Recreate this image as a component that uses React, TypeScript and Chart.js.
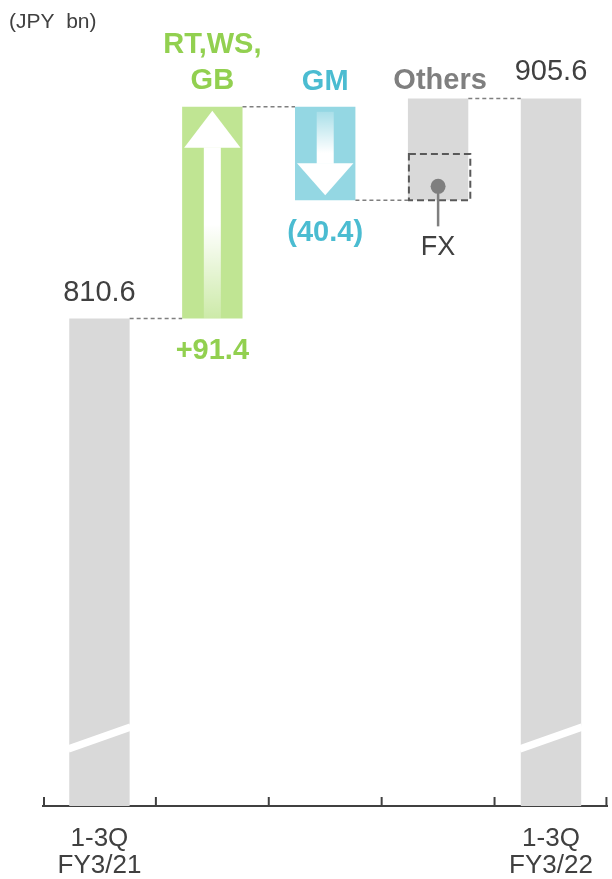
import React, { useEffect, useRef } from "react";
import { Chart, registerables } from "chart.js";

Chart.register(...registerables);

// ---------------- data ----------------
const categories: (string | string[])[] = [["1-3Q", "FY3/21"], "", "", "", ["1-3Q", "FY3/22"]];
const startTotal = 810.6;
const endTotal = 905.6;
const stepNames: string[][] = [["RT,WS,", "GB"], ["GM"], ["Others"]];
const stepValues = [91.4, -40.4, 44.0];
const stepLabels = ["+91.4", "(40.4)", ""];
const totalLabels = ["810.6", "905.6"];
const fxValue = 20.0; // estimated FX part inside "Others"
const axisMin = 600;
const axisMax = 930;
const breakValues = [624.6, 634.1]; // axis-break cut (left edge, right edge)
const unitLabel = "(JPY  bn)";

// ---------------- styles ----------------
const GRAY = "#d9d9d9";
const GREEN_BAR = "#c0e593";
const BLUE_BAR = "#94d7e3";
const GREEN_TXT = "#92d050";
const BLUE_TXT = "#4bbcd1";
const DARK = "#404040";
const MID = "#7f7f7f";
const FONT = "'Liberation Sans', Arial, sans-serif";

function buildBars(): [number, number][] {
  const bars: [number, number][] = [[axisMin, startTotal]];
  let run = startTotal;
  for (const v of stepValues) {
    const next = run + v;
    bars.push([Math.min(run, next), Math.max(run, next)]);
    run = next;
  }
  bars.push([axisMin, endTotal]);
  return bars;
}

const overlayPlugin = {
  id: "overlay",
  afterDatasetsDraw(chart: any) {
    const ctx: CanvasRenderingContext2D = chart.ctx;
    const area = chart.chartArea;
    const ys = chart.scales.y;
    const els = chart.getDatasetMeta(0).data as any[];
    const b = els.map((el) => {
      const p = el.getProps(["x", "y", "base", "width"], true);
      return {
        l: p.x - p.width / 2,
        r: p.x + p.width / 2,
        cx: p.x,
        top: Math.min(p.y, p.base),
        bot: Math.max(p.y, p.base),
        w: p.width,
      };
    });

    const capText = (s: string, x: number, cy: number, size: number, bold: boolean, color: string, align: CanvasTextAlign = "center") => {
      ctx.font = `${bold ? "bold " : ""}${size}px ${FONT}`;
      ctx.fillStyle = color;
      ctx.textAlign = align;
      ctx.textBaseline = "alphabetic";
      ctx.fillText(s, x, cy + size * 0.358);
    };

    ctx.save();

    // axis-break cuts
    ctx.strokeStyle = "#ffffff";
    ctx.lineWidth = 7.5;
    for (const i of [0, 4]) {
      ctx.beginPath();
      ctx.moveTo(b[i].l - 1, ys.getPixelForValue(breakValues[0]));
      ctx.lineTo(b[i].r + 1, ys.getPixelForValue(breakValues[1]));
      ctx.stroke();
    }

    // green up-arrow
    {
      const g = b[1];
      const tip = g.top + 4;
      const hb = g.top + 41;
      const hw = g.w / 2 - 2;
      const sw = 8.5;
      ctx.fillStyle = "#ffffff";
      ctx.beginPath();
      ctx.moveTo(g.cx, tip);
      ctx.lineTo(g.cx + hw, hb);
      ctx.lineTo(g.cx - hw, hb);
      ctx.closePath();
      ctx.fill();
      const grad = ctx.createLinearGradient(0, hb, 0, g.bot);
      grad.addColorStop(0, "rgba(255,255,255,1)");
      grad.addColorStop(0.45, "rgba(255,255,255,1)");
      grad.addColorStop(1, "rgba(255,255,255,0.2)");
      ctx.fillStyle = grad;
      ctx.fillRect(g.cx - sw, hb - 0.5, sw * 2, g.bot - hb + 0.5);
    }
    // blue down-arrow
    {
      const g = b[2];
      const tip = g.bot - 5;
      const hb = g.bot - 37;
      const st = g.top + 5;
      const hw = g.w / 2 - 2;
      const sw = 8.5;
      const grad = ctx.createLinearGradient(0, st, 0, hb);
      grad.addColorStop(0, "rgba(255,255,255,0.2)");
      grad.addColorStop(0.8, "rgba(255,255,255,1)");
      grad.addColorStop(1, "rgba(255,255,255,1)");
      ctx.fillStyle = grad;
      ctx.fillRect(g.cx - sw, st, sw * 2, hb - st + 0.5);
      ctx.fillStyle = "#ffffff";
      ctx.beginPath();
      ctx.moveTo(g.cx - hw, hb);
      ctx.lineTo(g.cx + hw, hb);
      ctx.lineTo(g.cx, tip);
      ctx.closePath();
      ctx.fill();
    }

    // dashed connectors
    ctx.strokeStyle = MID;
    ctx.lineWidth = 1.5;
    ctx.setLineDash([4, 3]);
    const bars = buildBars();
    let run = startTotal;
    const levels = [startTotal];
    for (const v of stepValues) {
      run += v;
      levels.push(run);
    }
    for (let i = 0; i < 4; i++) {
      const yv = ys.getPixelForValue(levels[i]);
      ctx.beginPath();
      ctx.moveTo(b[i].r, yv);
      ctx.lineTo(b[i + 1].l, yv);
      ctx.stroke();
    }

    // FX box inside "Others"
    {
      const o = b[3];
      const base = bars[3][0];
      const yTop = ys.getPixelForValue(base + fxValue);
      const yBot = ys.getPixelForValue(base);
      ctx.strokeStyle = "#595959";
      ctx.lineWidth = 2;
      ctx.setLineDash([7, 4]);
      ctx.strokeRect(o.l + 1, yTop, o.w + 1, yBot - yTop);
      ctx.setLineDash([]);
      const cx = o.cx;
      const cy = yBot - 14;
      ctx.strokeStyle = MID;
      ctx.lineWidth = 2.5;
      ctx.beginPath();
      ctx.moveTo(cx, cy);
      ctx.lineTo(cx, cy + 40);
      ctx.stroke();
      ctx.fillStyle = MID;
      ctx.beginPath();
      ctx.arc(cx, cy, 7.5, 0, Math.PI * 2);
      ctx.fill();
      capText("FX", cx, cy + 59, 27, false, DARK);
    }
    ctx.setLineDash([]);

    // tick marks (pointing up) at category boundaries
    ctx.strokeStyle = DARK;
    ctx.lineWidth = 2;
    const n = categories.length;
    for (let i = 0; i <= n; i++) {
      const xi = area.left + (i * (area.right - area.left)) / n;
      const xa = i === 0 ? xi + 1 : i === n ? xi - 1 : xi;
      ctx.beginPath();
      ctx.moveTo(xa, area.bottom - 9);
      ctx.lineTo(xa, area.bottom);
      ctx.stroke();
    }

    // value labels
    capText(totalLabels[0], b[0].cx, b[0].top - 28, 29, false, DARK);
    capText(totalLabels[1], b[4].cx, b[4].top - 28.5, 29, false, DARK);

    capText(stepNames[0][0], b[1].cx, b[1].top - 64, 29, true, GREEN_TXT);
    capText(stepNames[0][1], b[1].cx, b[1].top - 28, 29, true, GREEN_TXT);
    capText(stepLabels[0], b[1].cx, b[1].bot + 30, 29, true, GREEN_TXT);

    capText(stepNames[1][0], b[2].cx, b[2].top - 27, 29, true, BLUE_TXT);
    capText(stepLabels[1], b[2].cx, b[2].bot + 30, 29, true, BLUE_TXT);

    capText(stepNames[2][0], b[3].cx + 2, b[3].top - 19.5, 29, true, MID);

    // unit label
    ctx.font = `21px ${FONT}`;
    ctx.fillStyle = DARK;
    ctx.textAlign = "left";
    ctx.textBaseline = "alphabetic";
    ctx.fillText(unitLabel, 9, 28);

    ctx.restore();
  },
};

export default function App() {
  const ref = useRef<HTMLCanvasElement | null>(null);

  useEffect(() => {
    if (!ref.current) return;
    const bars = buildBars();
    const chart = new Chart(ref.current, {
      type: "bar",
      data: {
        labels: categories as any,
        datasets: [
          {
            data: bars as any,
            backgroundColor: [GRAY, GREEN_BAR, BLUE_BAR, GRAY, GRAY],
            borderWidth: 0,
            barPercentage: 0.535,
            categoryPercentage: 1,
          },
        ],
      },
      options: {
        animation: false,
        responsive: false,
        devicePixelRatio: 1,
        layout: { padding: { top: 42, left: 43, right: 1, bottom: 0 } },
        plugins: { legend: { display: false }, tooltip: { enabled: false }, title: { display: false } },
        scales: {
          x: {
            grid: { display: false, drawTicks: false },
            border: { display: true, color: DARK, width: 2 },
            ticks: {
              color: DARK,
              padding: 19,
              maxRotation: 0,
              autoSkip: false,
              font: { family: FONT, size: 26, lineHeight: 1.05 },
            },
            afterFit: (scale: any) => {
              scale.height = 73;
            },
          },
          y: {
            display: false,
            min: axisMin,
            max: axisMax,
          },
        },
      },
      plugins: [overlayPlugin],
    });
    return () => chart.destroy();
  }, []);

  return (
    <div style={{ position: "absolute", left: 0, top: 0, width: 612, height: 879, background: "#ffffff" }}>
      <canvas ref={ref} width={612} height={879} style={{ display: "block", width: 612, height: 879 }} />
    </div>
  );
}
